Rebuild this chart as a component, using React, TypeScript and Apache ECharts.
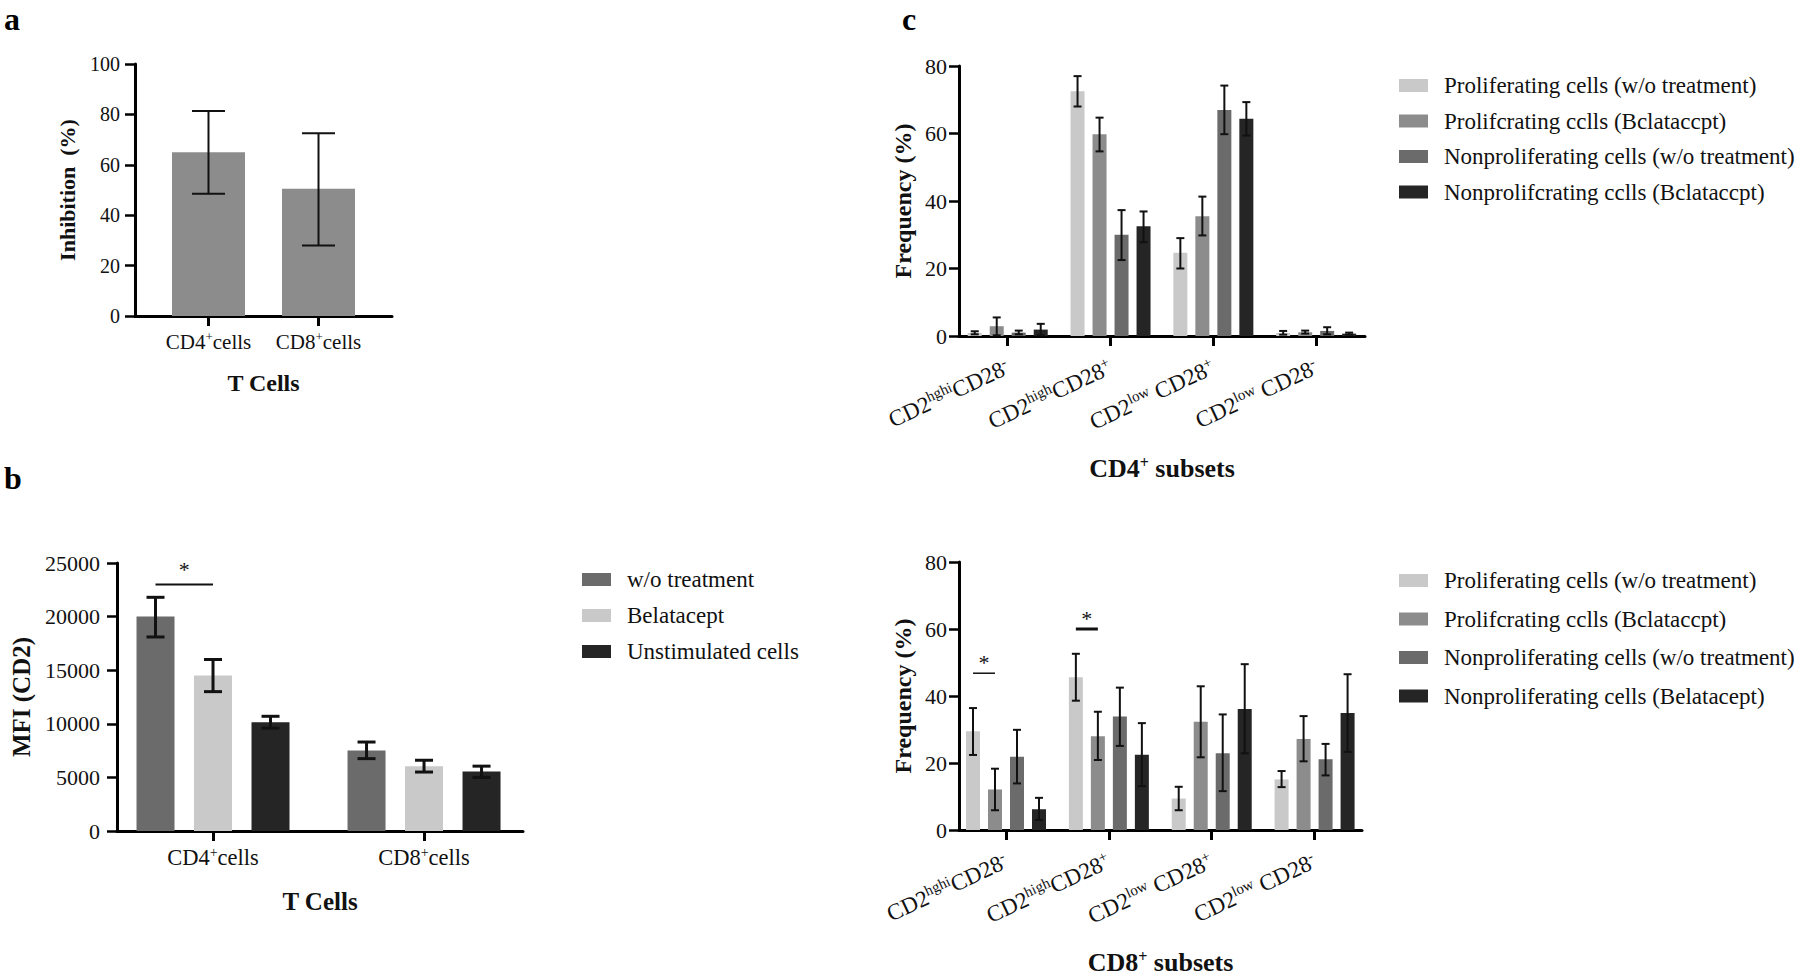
import React, { useEffect, useRef } from 'react';
import * as echarts from 'echarts';

const FONT = 'Liberation Serif';
const INK = '#111111';

const C_LIGHT = '#c9c9c9';
const C_MID = '#8c8c8c';
const C_DARKMID = '#6b6b6b';
const C_DARK = '#252525';

// ---------- Panel a ----------
const aLabels = ['{b|CD4}{s|+}{b|cells}', '{b|CD8}{s|+}{b|cells}'];
const aValues = [65, 50.5];
const aLow = [48.5, 28];
const aHigh = [81.3, 72.5];

// ---------- Panel b ----------
const bLabels = ['{b|CD4}{s|+}{b|cells}', '{b|CD8}{s|+}{b|cells}'];
const bNames = ['w/o treatment', 'Belatacept', 'Unstimulated cells'];
const bWo = [20000, 7500];
const bWoLow = [18100, 6750];
const bWoHigh = [21800, 8300];
const bBela = [14500, 6050];
const bBelaLow = [13000, 5500];
const bBelaHigh = [16000, 6600];
const bUnst = [10150, 5550];
const bUnstLow = [9600, 5000];
const bUnstHigh = [10700, 6050];
// significance: [category, fromBar, toBar, lineY, starY]
const bSig = [[1, 0, 1, 23000, 24350]];

// ---------- Panel c ----------
const cLabels = [
  '{b|CD2}{s|hghi}{b|CD28}{s|-}',
  '{b|CD2}{s|high}{b|CD28}{s|+}',
  '{b|CD2}{s|low}{b| CD28}{s|+}',
  '{b|CD2}{s|low}{b| CD28}{s|-}',
];
const cTopNames = [
  'Proliferating cells (w/o treatment)',
  'Prolifcrating cclls (Bclataccpt)',
  'Nonproliferating cells (w/o treatment)',
  'Nonprolifcrating cclls (Bclataccpt)',
];
const cBotNames = [
  'Proliferating cells (w/o treatment)',
  'Prolifcrating cclls (Bclataccpt)',
  'Nonproliferating cells (w/o treatment)',
  'Nonproliferating cells (Belatacept)',
];
// CD4+ subsets
const cTop1 = [0.9, 72.5, 24.7, 0.9];
const cTop1Low = [0.5, 68.0, 20.0, 0.4];
const cTop1High = [1.4, 77.0, 29.0, 1.5];
const cTop2 = [2.9, 59.8, 35.5, 1.1];
const cTop2Low = [0.2, 54.7, 29.8, 0.7];
const cTop2High = [5.5, 64.7, 41.3, 1.6];
const cTop3 = [1.0, 30.0, 67.0, 1.5];
const cTop3Low = [0.5, 22.5, 59.8, 0.5];
const cTop3High = [1.6, 37.3, 74.2, 2.6];
const cTop4 = [1.9, 32.5, 64.4, 0.7];
const cTop4Low = [0.2, 27.8, 59.4, 0.4];
const cTop4High = [3.6, 36.9, 69.3, 1.0];
// CD8+ subsets
const cBot1 = [29.5, 45.6, 9.4, 15.1];
const cBot1Low = [22.4, 38.6, 5.9, 12.8];
const cBot1High = [36.4, 52.6, 12.9, 17.6];
const cBot2 = [12.1, 28.0, 32.3, 27.2];
const cBot2Low = [5.9, 20.9, 21.7, 20.5];
const cBot2High = [18.3, 35.3, 42.9, 34.0];
const cBot3 = [21.9, 33.9, 22.9, 21.1];
const cBot3Low = [13.9, 25.1, 11.6, 16.3];
const cBot3High = [29.9, 42.5, 34.5, 25.7];
const cBot4 = [6.2, 22.5, 36.1, 34.9];
const cBot4Low = [3.0, 13.1, 22.9, 23.3];
const cBot4High = [9.6, 31.9, 49.5, 46.5];
const cBotSig = [
  [1, 0, 1, 46.8, 50.0, 1.5],
  [2, 0, 1, 60.0, 63.0, 3],
];

const cColors = [C_LIGHT, C_MID, C_DARKMID, C_DARK];

function rich(size: number, supSize: number, rise: number, bold = false) {
  return {
    b: { fontFamily: FONT, fontSize: size, color: INK, fontWeight: bold ? 'bold' : 'normal' },
    s: {
      fontFamily: FONT,
      fontSize: supSize,
      color: INK,
      fontWeight: bold ? 'bold' : 'normal',
      padding: [0, 0, rise, 0],
    },
  };
}

function xAxis(o: any) {
  const pos = o.labels.map((_: any, i: number) => i + 1);
  return {
    type: 'value',
    gridIndex: o.grid,
    min: o.min,
    max: o.max,
    splitLine: { show: false },
    axisLine: { show: true, onZero: false, lineStyle: { color: '#000', width: 3 } },
    axisTick: { show: true, customValues: pos, length: 10, lineStyle: { color: '#000', width: 3 } },
    axisLabel: {
      show: true,
      customValues: pos,
      formatter: (v: number) => o.labels[Math.round(v) - 1] || '',
      margin: o.margin,
      rotate: o.rotate || 0,
      rich: o.rich,
    },
    name: o.name,
    nameLocation: 'middle',
    nameGap: o.nameGap,
    nameTextStyle: {
      fontFamily: FONT,
      fontWeight: 'bold',
      fontSize: o.nameSize,
      color: INK,
      rich: o.nameRich,
    },
  };
}

function yAxis(o: any) {
  return {
    type: 'value',
    gridIndex: o.grid,
    min: 0,
    max: o.max,
    interval: o.interval,
    splitLine: { show: false },
    axisLine: { show: true, lineStyle: { color: '#000', width: 3 } },
    axisTick: { show: true, length: 10, lineStyle: { color: '#000', width: 2.5 } },
    axisLabel: {
      margin: o.margin,
      fontFamily: FONT,
      fontSize: o.labelSize,
      color: INK,
      formatter: (v: number) => String(v),
    },
    name: o.name,
    nameLocation: 'middle',
    nameGap: o.nameGap,
    nameTextStyle: { fontFamily: FONT, fontWeight: 'bold', fontSize: o.nameSize, color: INK },
  };
}

function barSeries(name: string, axis: number, values: number[], color: string, barW: number, gap: number) {
  return {
    type: 'bar',
    name,
    xAxisIndex: axis,
    yAxisIndex: axis,
    data: values.map((v, i) => [i + 1, v]),
    barWidth: barW,
    barGap: `${(gap / barW) * 100}%`,
    itemStyle: { color },
    z: 2,
  };
}

function errSeries(axis: number, lows: number[], highs: number[], k: number, n: number, barW: number, gap: number, cap: number, lw: number) {
  return {
    type: 'custom',
    xAxisIndex: axis,
    yAxisIndex: axis,
    z: 5,
    data: lows.map((lo, i) => [i + 1, lo, highs[i]]),
    renderItem: (_p: any, api: any) => {
      const hi = api.coord([api.value(0), api.value(2)]);
      const lo = api.coord([api.value(0), api.value(1)]);
      const cx = hi[0] + (k - (n - 1) / 2) * (barW + gap);
      const style = { stroke: INK, lineWidth: lw };
      return {
        type: 'group',
        children: [
          { type: 'line', shape: { x1: cx, y1: hi[1], x2: cx, y2: lo[1] }, style },
          { type: 'line', shape: { x1: cx - cap / 2, y1: hi[1], x2: cx + cap / 2, y2: hi[1] }, style },
          { type: 'line', shape: { x1: cx - cap / 2, y1: lo[1], x2: cx + cap / 2, y2: lo[1] }, style },
        ],
      };
    },
  };
}

function sigSeries(axis: number, sig: number[][], n: number, barW: number, gap: number, defaultLw: number) {
  return {
    type: 'custom',
    xAxisIndex: axis,
    yAxisIndex: axis,
    z: 6,
    data: sig,
    renderItem: (_p: any, api: any) => {
      const p = api.coord([api.value(0), api.value(3)]);
      const s = api.coord([api.value(0), api.value(4)]);
      const step = barW + gap;
      const x1 = p[0] + (api.value(1) - (n - 1) / 2) * step;
      const x2 = p[0] + (api.value(2) - (n - 1) / 2) * step;
      const lw = api.value(5) || defaultLw;
      return {
        type: 'group',
        children: [
          { type: 'line', shape: { x1, y1: p[1], x2, y2: p[1] }, style: { stroke: INK, lineWidth: lw } },
          {
            type: 'text',
            x: (x1 + x2) / 2,
            y: s[1],
            style: {
              text: '*',
              fontFamily: FONT,
              fontSize: 22,
              fill: INK,
              align: 'center',
              verticalAlign: 'middle',
            },
          },
        ],
      };
    },
  };
}

export default function App() {
  const ref = useRef<HTMLDivElement>(null);
  useEffect(() => {
    if (!ref.current) return;
    const chart = echarts.init(ref.current, null, { renderer: 'svg' });

    const series: any[] = [];
    // a
    series.push(barSeries('Inhibition', 0, aValues, C_MID, 73, 0));
    series.push(errSeries(0, aLow, aHigh, 0, 1, 73, 0, 33, 2));
    // b
    const bVals = [bWo, bBela, bUnst];
    const bLows = [bWoLow, bBelaLow, bUnstLow];
    const bHighs = [bWoHigh, bBelaHigh, bUnstHigh];
    const bCols = [C_DARKMID, C_LIGHT, C_DARK];
    bVals.forEach((v, k) => series.push(barSeries(bNames[k], 1, v, bCols[k], 38, 19.5)));
    bVals.forEach((_v, k) => series.push(errSeries(1, bLows[k], bHighs[k], k, 3, 38, 19.5, 18, 3)));
    series.push(sigSeries(1, bSig, 3, 38, 19.5, 2));
    // c top
    const tVals = [cTop1, cTop2, cTop3, cTop4];
    const tLows = [cTop1Low, cTop2Low, cTop3Low, cTop4Low];
    const tHighs = [cTop1High, cTop2High, cTop3High, cTop4High];
    tVals.forEach((v, k) => series.push(barSeries(cTopNames[k], 2, v, cColors[k], 14, 8)));
    tVals.forEach((_v, k) => series.push(errSeries(2, tLows[k], tHighs[k], k, 4, 14, 8, 8, 2)));
    // c bottom
    const uVals = [cBot1, cBot2, cBot3, cBot4];
    const uLows = [cBot1Low, cBot2Low, cBot3Low, cBot4Low];
    const uHighs = [cBot1High, cBot2High, cBot3High, cBot4High];
    uVals.forEach((v, k) => series.push(barSeries(cBotNames[k], 3, v, cColors[k], 14, 8)));
    uVals.forEach((_v, k) => series.push(errSeries(3, uLows[k], uHighs[k], k, 4, 14, 8, 8, 2)));
    series.push(sigSeries(3, cBotSig, 4, 14, 8, 2));

    const legendBase = {
      orient: 'vertical',
      icon: 'rect',
      itemWidth: 29,
      itemHeight: 13,
      padding: 0,
      selectedMode: false,
      itemStyle: { borderWidth: 0 },
      textStyle: { fontFamily: FONT, fontSize: 23, color: INK, padding: [0, 0, 0, 11] },
    };

    chart.setOption({
      animation: false,
      backgroundColor: '#ffffff',
      textStyle: { fontFamily: FONT },
      grid: [
        { left: 135, top: 64, width: 257, height: 252 },
        { left: 117, top: 563, width: 406, height: 268 },
        { left: 959, top: 66, width: 406, height: 270 },
        { left: 959, top: 562, width: 403, height: 270 },
      ],
      xAxis: [
        xAxis({ grid: 0, min: 0.332, max: 2.668, labels: aLabels, rich: rich(21, 13, 10), margin: 14, name: 'T Cells', nameGap: 55, nameSize: 24 }),
        xAxis({ grid: 1, min: 0.545, max: 2.469, labels: bLabels, rich: rich(22.5, 14, 11), margin: 14, name: 'T Cells', nameGap: 58, nameSize: 25 }),
        xAxis({
          grid: 2, min: 0.526, max: 4.475, labels: cLabels, rich: rich(23, 15, 11), margin: 30, rotate: 25,
          name: '{b|CD4}{s|+}{b| subsets}', nameRich: rich(26, 16, 12, true), nameGap: 118, nameSize: 26,
        }),
        xAxis({
          grid: 3, min: 0.543, max: 4.461, labels: cLabels, rich: rich(23, 15, 11), margin: 30, rotate: 25,
          name: '{b|CD8}{s|+}{b| subsets}', nameRich: rich(26, 16, 12, true), nameGap: 118, nameSize: 26,
        }),
      ],
      yAxis: [
        yAxis({ grid: 0, max: 100, interval: 20, margin: 15, labelSize: 20, name: 'Inhibition  (%)', nameGap: 57, nameSize: 22 }),
        yAxis({ grid: 1, max: 25000, interval: 5000, margin: 17, labelSize: 22, name: 'MFI (CD2)', nameGap: 83, nameSize: 25 }),
        yAxis({ grid: 2, max: 80, interval: 20, margin: 12, labelSize: 22, name: 'Frequency (%)', nameGap: 44, nameSize: 24 }),
        yAxis({ grid: 3, max: 80, interval: 20, margin: 12, labelSize: 22, name: 'Frequency (%)', nameGap: 44, nameSize: 24 }),
      ],
      legend: [
        { ...legendBase, data: bNames, left: 582, top: 568, itemGap: 13 },
        { ...legendBase, data: cTopNames, left: 1399, top: 74, itemGap: 12.5 },
        { ...legendBase, data: cBotNames, left: 1399, top: 569, itemGap: 15.5 },
      ],
      graphic: [
        { type: 'text', left: 4, top: 3, style: { text: 'a', fontFamily: FONT, fontWeight: 'bold', fontSize: 32, fill: '#000' } },
        { type: 'text', left: 4, top: 462, style: { text: 'b', fontFamily: FONT, fontWeight: 'bold', fontSize: 32, fill: '#000' } },
        { type: 'text', left: 902, top: 3, style: { text: 'c', fontFamily: FONT, fontWeight: 'bold', fontSize: 32, fill: '#000' } },
      ],
      series,
    });
    return () => chart.dispose();
  }, []);

  return (
    <div
      ref={ref}
      style={{ position: 'absolute', left: 0, top: 0, width: 1800, height: 976, background: '#fff' }}
    />
  );
}
